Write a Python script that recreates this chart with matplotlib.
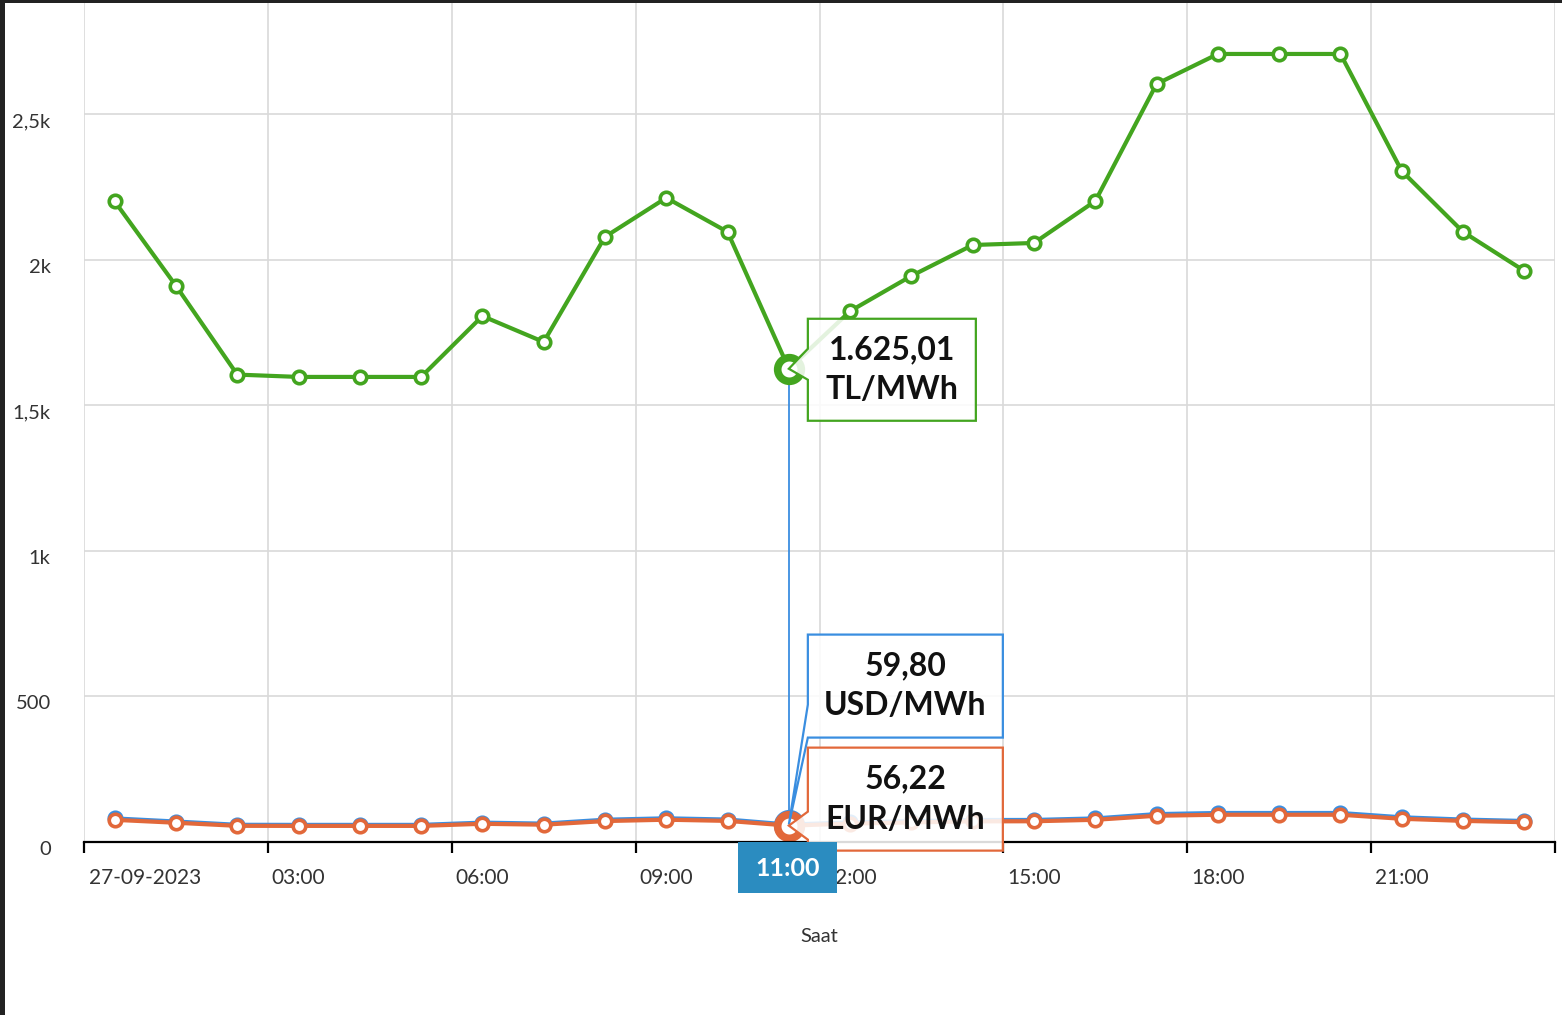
import matplotlib
matplotlib.use("Agg")
import matplotlib.pyplot as plt
from matplotlib.patches import Polygon, Rectangle
from matplotlib.transforms import IdentityTransform, ScaledTranslation, blended_transform_factory

# hourly prices for 27-09-2023
hours = list(range(24))
tl_mwh = [2200, 1910, 1605, 1597, 1597, 1597, 1806, 1717, 2078, 2212, 2095, 1625.01,
          1823, 1944, 2050, 2057, 2201, 2603, 2706, 2706, 2706, 2304, 2095, 1961]
usd_mwh = [81.0, 70.3, 59.1, 58.8, 58.8, 58.8, 66.5, 63.2, 76.5, 81.4, 77.1, 59.80,
           67.1, 71.5, 75.5, 75.7, 81.0, 95.8, 99.6, 99.6, 99.6, 84.8, 77.1, 72.2]
eur_mwh = [76.1, 66.1, 55.5, 55.3, 55.3, 55.3, 62.5, 59.4, 71.9, 76.5, 72.5, 56.22,
           63.1, 67.3, 70.9, 71.2, 76.2, 90.1, 93.6, 93.6, 93.6, 79.7, 72.5, 67.9]
x_labels = ["03:00", "06:00", "09:00", "12:00", "15:00", "18:00", "21:00"]
y_ticks = [0, 500, 1000, 1500, 2000, 2500]
y_labels = ["0", "500", "1k", "1,5k", "2k", "2,5k"]
hover = 11

GREEN = "#43a51f"
BLUE = "#3a8ee0"
ORANGE = "#e2683a"

plt.rcParams["font.family"] = ["Lato", "DejaVu Sans"]

W, H = 1562, 1015
fig = plt.figure(figsize=(W / 100, H / 100), dpi=100)
ax = fig.add_axes([84 / W, 1 - 842 / H, (1555 - 84) / W, (842 - 3) / H])

ax.set_xlim(-0.5, 23.5)
ax.set_ylim(0, 2881)

# grid
ax.set_xticks([i - 0.5 for i in range(0, 25, 3)])
ax.set_xticks([3, 6, 9, 12, 15, 18, 21], minor=True)
ax.set_xticklabels([])
ax.set_xticklabels(x_labels, minor=True)
ax.tick_params(axis="x", which="major", length=8, width=1.6, color="black", direction="out")
ax.tick_params(axis="x", which="minor", length=0, pad=19, labelsize=15, labelcolor="#333333")
ax.set_yticks(y_ticks)
ax.set_yticklabels(y_labels)
ax.tick_params(axis="y", length=0, pad=24, labelsize=14.5, labelcolor="#333333")
for lab in ax.get_yticklabels():
    lab.set_transform(lab.get_transform() + ScaledTranslation(0, -6 / 100, fig.dpi_scale_trans))
ax.grid(True, which="major", color="#d9d9d9", linewidth=1.2)
ax.set_axisbelow(True)
for s in ["top", "right", "left"]:
    ax.spines[s].set_visible(False)
ax.spines["bottom"].set_linewidth(1.6)
ax.spines["bottom"].set_zorder(6)

date_tr = blended_transform_factory(ax.transData, ax.transAxes) + \
    ScaledTranslation(0, -36 / 100, fig.dpi_scale_trans)
ax.text(-0.42, 0, "27-09-2023", ha="left", va="center", fontsize=15, color="#333333",
        transform=date_tr)
fig.text(819.5 / W, 1 - 936 / H, "Saat", ha="center", va="center", fontsize=14.5, color="#333333")

# crosshair
ax.plot([hover, hover], [0, tl_mwh[hover]], color=BLUE, linewidth=1.3, zorder=2)

mk = dict(marker="o", markersize=9, markerfacecolor="white", markeredgewidth=2.6,
          linewidth=3.0, clip_on=False)
ax.plot(hours, usd_mwh, color=BLUE, zorder=3, **mk)
ax.plot(hours, eur_mwh, color=ORANGE, zorder=4, **mk)
ax.plot(hours, tl_mwh, color=GREEN, zorder=5, **mk)
big = dict(marker="o", markersize=17, markerfacecolor="white", markeredgewidth=5.5, clip_on=False)
ax.plot([hover], [usd_mwh[hover]], color=BLUE, zorder=3.5, **big)
ax.plot([hover], [eur_mwh[hover]], color=ORANGE, zorder=4.5, **big)
ax.plot([hover], [tl_mwh[hover]], color=GREEN, zorder=5.5, **big)

fig.canvas.draw()
ident = IdentityTransform()


def tooltip(value, color, text, box, notch):
    px, py = ax.transData.transform((hover, value))
    sx, sy = px, H - py
    l, t, r, b = sx + box[0], sy + box[1], sx + box[2], sy + box[3]
    n1, n2 = sy + notch[0], sy + notch[1]
    pts = [(l, t), (r, t), (r, b), (l, b)]
    if n2 < b:
        pts.append((l, n2))
    pts += [(sx, sy), (l, n1)]
    pts = [(x, H - y) for x, y in pts]
    poly = Polygon(pts, closed=True, facecolor=(1, 1, 1, 0.86), edgecolor=color,
                   linewidth=1.6, transform=ident, zorder=10, clip_on=False)
    fig.add_artist(poly)
    fig.text((l + r) / 2 / W, 1 - (t + b) / 2 / H, text, ha="center", va="center",
             fontsize=23, fontweight="bold", color="#111111", linespacing=1.45, zorder=11)


tooltip(tl_mwh[hover], GREEN, "1.625,01\nTL/MWh", (19, -50, 187, 52), (-20, 11))
tooltip(usd_mwh[hover], BLUE, "59,80\nUSD/MWh", (19, -190, 214, -87), (-120, -87))
tooltip(eur_mwh[hover], ORANGE, "56,22\nEUR/MWh", (19, -78, 214, 25), (-14, 14))

# x crosshair label
px, py = ax.transData.transform((hover, 0))
fig.add_artist(Rectangle((px - 51, py - 51), 99, 51, facecolor="#2b8cc0", edgecolor="none",
                         transform=ident, zorder=12))
fig.text((px - 1) / W, (py - 26) / H, "11:00", ha="center", va="center", fontsize=18,
         fontweight="bold", color="white", zorder=13)

# dark frame edges
fig.add_artist(Rectangle((0, 0), 5, H, facecolor="#222222", edgecolor="none", transform=ident, zorder=20))
fig.add_artist(Rectangle((0, H - 3), W, 3, facecolor="#222222", edgecolor="none", transform=ident, zorder=20))

fig.savefig("out.png", dpi=100)
